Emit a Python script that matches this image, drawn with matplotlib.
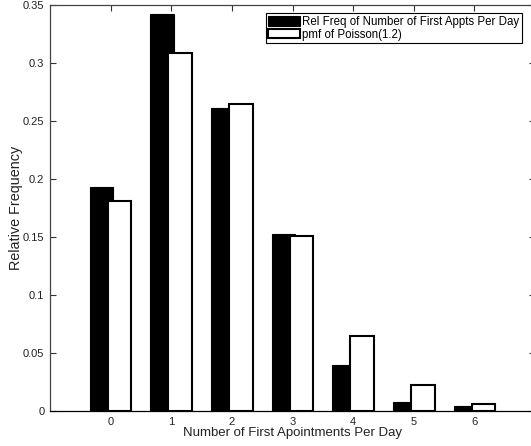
import matplotlib
matplotlib.use("Agg")
import matplotlib.pyplot as plt
import numpy as np

plt.rcParams['font.family'] = ['Liberation Sans', 'DejaVu Sans']

appts_per_day = [0, 1, 2, 3, 4, 5, 6]
rel_freq = [0.193, 0.342, 0.261, 0.153, 0.040, 0.008, 0.004]
poisson_pmf = [0.181, 0.309, 0.265, 0.151, 0.065, 0.022, 0.006]
y_ticks = [0, 0.05, 0.1, 0.15, 0.2, 0.25, 0.3, 0.35]
y_tick_labels = ['0', '0.05', '0.1', '0.15', '0.2', '0.25', '0.3', '0.35']

fig = plt.figure(figsize=(5.31, 4.46), dpi=100)
ax = fig.add_axes([0.0942, 0.0785, 0.9133, 0.9103])

x = np.array(appts_per_day, dtype=float)
width = 0.39
offset = 0.148
ax.bar(x - offset, rel_freq, width, color='black', edgecolor='black', linewidth=0.8,
       label='Rel Freq of Number of First Appts Per Day', zorder=2)
ax.bar(x + offset, poisson_pmf, width, color='white', edgecolor='black', linewidth=1.5,
       label='pmf of Poisson(1.2)', zorder=3)

ax.set_xlim(-1, 7)
ax.set_ylim(0, 0.35)
ax.set_xticks(appts_per_day)
ax.set_xticklabels([str(v) for v in appts_per_day])
ax.set_yticks(y_ticks)
ax.set_yticklabels(y_tick_labels)
ax.tick_params(direction='in', length=4, width=0.8, top=True, right=True,
               labelsize=8, colors='#333333', labelcolor='#222222', pad=4)
for s in ax.spines.values():
    s.set_color('#444444')
    s.set_linewidth(0.9)
ax.spines['bottom'].set_color('black')

ax.set_xlabel('Number of First Apointments Per Day', fontsize=9.5, color='#222222', labelpad=0)
ax.set_ylabel('Relative Frequency', fontsize=10.4, color='#222222', labelpad=0)

leg = ax.legend(loc='upper right', bbox_to_anchor=(0.973, 0.980), fontsize=8.3,
                frameon=True, fancybox=False, edgecolor='black', framealpha=1,
                handlelength=2.7, handleheight=0.9, handletextpad=0.2,
                borderpad=0.25, labelspacing=0.05, borderaxespad=0)
leg.get_frame().set_linewidth(0.8)

fig.savefig('out.png', dpi=100)
